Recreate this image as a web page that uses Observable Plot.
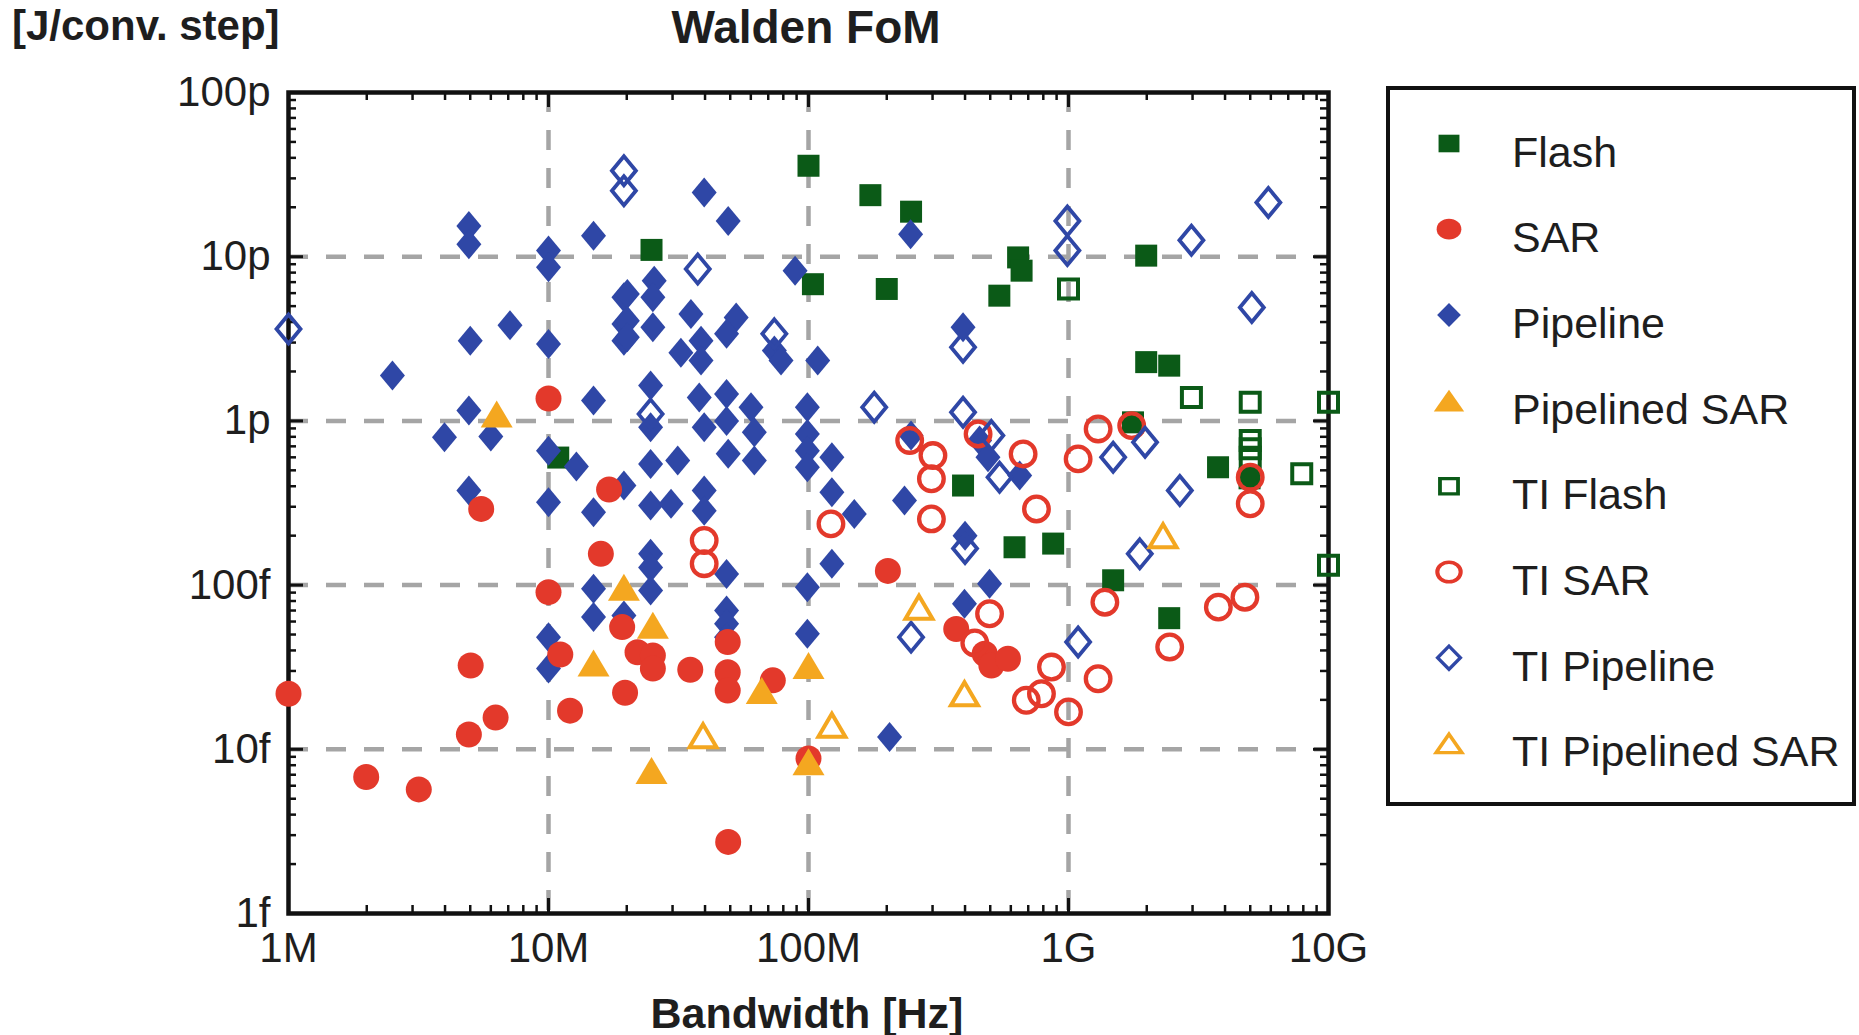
<!DOCTYPE html>
<html><head><meta charset="utf-8">
<script src="https://cdn.jsdelivr.net/npm/d3@7"></script>
<script src="https://cdn.jsdelivr.net/npm/@observablehq/plot@0.6"></script>
<style>html,body{margin:0;padding:0;background:#fff;}</style>
</head><body><div id="chart"></div>
<script>
// Bandwidth in MHz, Walden FoM in fJ/conv.-step
const flash = [[100,35800],[173,23700],[248,18800],[24.9,11000],[104,6800],[200,6360],[640,9900],[660,8220],[542,5790],[1990,10150],[1990,2280],[2440,2170],[1770,980],[393,404],[3760,522],[4970,447],[620,170],[873,179],[1485,107],[2440,62.9],[10.9,598]];
const sar = [[1.0,21.8],[5.02,32.4],[4.94,12.3],[6.26,15.6],[1.99,6.78],[3.17,5.7],[10,1370],[5.51,291],[17.1,382],[15.9,155],[10,90.6],[11.1,37.8],[12.1,17.2],[19.2,55.5],[19.7,22.1],[22,39],[25.2,37.3],[25.2,31],[35.1,30.5],[48.9,29.5],[48.9,22.8],[48.9,45],[72.9,26.3],[100,8.8],[49.1,2.73],[202,122],[370,54],[476,38.2],[505,32.4],[585,35.6]];
const pipeline = [[4.94,15400],[4.94,11900],[10,10900],[10,8610],[14.9,13400],[5.0,3080],[7.11,3830],[10,2940],[2.51,1890],[19.5,5660],[19.5,3890],[19.5,3080],[39.7,24600],[49.1,16500],[247,13700],[88.8,8220],[108.5,2330],[393,3720],[25.5,7140],[25.2,5660],[20.1,5930],[20.1,4080],[20.1,3230],[25.2,3720],[35.3,4480],[52.7,4270],[48.4,3390],[32.3,2600],[38.6,3080],[38.6,2330],[73.9,2680],[78.4,2330],[4.94,1155],[3.98,795],[6.0,803],[14.9,1330],[10,659],[12.8,527],[4.94,377],[10,320],[14.9,278],[19.5,404],[14.9,95],[14.9,64],[19.5,65.4],[10,48.2],[10,31],[24.7,1640],[24.7,914],[24.7,547],[31.4,573],[24.7,305],[29.6,313],[39.7,377],[39.7,284],[38,1390],[39.7,914],[48.4,1460],[48.4,1000],[49.1,630],[60.1,1210],[61.9,853],[61.9,573],[99,1210],[99,833],[99,659],[99,522],[123,600],[123,368],[150,271],[123,135],[99,97],[99,50.5],[48.4,117],[24.7,155],[24.7,128],[24.7,92.8],[48.4,70],[48.4,58.2],[48.4,48.2],[234,328],[248,814],[398,76.9],[455,760],[497,102],[649,465],[490,600],[400,200],[205,11.9]];
const pipelinedSar = [[6.32,1100],[19.5,97],[25.2,57],[14.9,33.5],[100,32.4],[66.1,22.8],[24.9,7.44],[100,8.4]];
const tiFlash = [[1000,6360],[2970,1390],[5000,1300],[5000,760],[5000,677],[5000,600],[7890,476],[10000,1300],[10000,132]];
const tiSar = [[39.7,187],[39.7,135],[122,236],[245,760],[301,615],[297,444],[297,253],[449,833],[669,629],[753,291],[1089,587],[1300,893],[1750,936],[5000,454],[5000,313],[1380,78.7],[3770,73.4],[4770,84.4],[497,66.9],[2450,42],[436,44.4],[860,31.7],[688,19.9],[787,21.8],[1000,16.9],[1300,26.9]];
const tiPipeline = [[1.0,3630],[19.5,33400],[19.5,25200],[37.5,8410],[73.9,3390],[24.7,1100],[179,1210],[393,2810],[393,1130],[400,167],[248,48.2],[505,814],[543,454],[990,16500],[990,10900],[2970,12600],[5870,21400],[5070,4910],[1485,600],[1970,741],[2680,377],[1880,155],[1089,45]];
const tiPipelinedSar = [[39.3,12.1],[123,14],[398,21.8],[266,73.4],[2310,200]];

const xTickValues = [1, 10, 100, 1000, 10000];
const xTickLabels = ["1M", "10M", "100M", "1G", "10G"];
const yTickValues = [1, 10, 100, 1000, 10000, 100000];
const yTickLabels = ["1f", "10f", "100f", "1p", "10p", "100p"];
const seriesNames = ["Flash", "SAR", "Pipeline", "Pipelined SAR", "TI Flash", "TI SAR", "TI Pipeline", "TI Pipelined SAR"];

const FONT = "'Liberation Sans', Arial, Helvetica, sans-serif";
const GREEN = "#0b5a17", RED = "#e3392b", BLUE = "#2f47a6", ORANGE = "#f4a720";
const W = 1859, H = 1035, ML = 288, MR = 531, MT = 92, MB = 122;
const PH = H - MT - MB;

function sym(kind, a, b) {
  return {draw(ctx, size) {
    const u = Math.sqrt(size / Math.PI) / 10;
    const A = a * u, B = (b === undefined ? a : b) * u;
    if (kind === "square") { ctx.moveTo(-A, -A); ctx.lineTo(A, -A); ctx.lineTo(A, A); ctx.lineTo(-A, A); ctx.closePath(); }
    else if (kind === "circle") { ctx.moveTo(A, 0); ctx.arc(0, 0, A, 0, 2 * Math.PI); ctx.closePath(); }
    else if (kind === "diamond") { ctx.moveTo(0, -A); ctx.lineTo(B, 0); ctx.lineTo(0, A); ctx.lineTo(-B, 0); ctx.closePath(); }
    else if (kind === "triangle") { ctx.moveTo(0, -B / 2); ctx.lineTo(A / 2, B / 2); ctx.lineTo(-A / 2, B / 2); ctx.closePath(); }
  }};
}

const styles = {
  "Flash": {data: flash, symbol: sym("square", 11), color: GREEN, open: false},
  "SAR": {data: sar, symbol: sym("circle", 13), color: RED, open: false},
  "Pipeline": {data: pipeline, symbol: sym("diamond", 15, 12.5), color: BLUE, open: false},
  "Pipelined SAR": {data: pipelinedSar, symbol: sym("triangle", 32, 27), color: ORANGE, open: false},
  "TI Flash": {data: tiFlash, symbol: sym("square", 9.5), color: GREEN, open: true, sw: 4},
  "TI SAR": {data: tiSar, symbol: sym("circle", 12.3), color: RED, open: true, sw: 4.3},
  "TI Pipeline": {data: tiPipeline, symbol: sym("diamond", 14.5, 12), color: BLUE, open: true, sw: 3.8},
  "TI Pipelined SAR": {data: tiPipelinedSar, symbol: sym("triangle", 27, 23), color: ORANGE, open: true, sw: 4}
};
const drawOrder = ["Flash", "Pipeline", "SAR", "Pipelined SAR", "TI Flash", "TI SAR", "TI Pipeline", "TI Pipelined SAR"];

const xMinor = [], yMinor = [];
for (const d of [1, 10, 100, 1000]) for (let m = 2; m <= 9; m++) xMinor.push(d * m);
for (const d of [1, 10, 100, 1000, 10000]) for (let m = 2; m <= 9; m++) yMinor.push(d * m);
const xGrid = xTickValues.slice(1, -1), yGrid = yTickValues.slice(1, -1);
const xLab = new Map(xTickValues.map((v, i) => [v, xTickLabels[i]]));
const yLab = new Map(yTickValues.map((v, i) => [v, yTickLabels[i]]));
const PW = W - ML - MR;

const dotMarks = drawOrder.map(name => {
  const s = styles[name];
  return Plot.dot(s.data, {
    x: d => d[0], y: d => d[1], r: 10, symbol: s.symbol,
    fill: s.open ? "none" : s.color, stroke: s.open ? s.color : "none",
    strokeWidth: s.open ? s.sw : 0
  });
});

const chart = Plot.plot({
  width: W, height: H,
  marginLeft: ML, marginRight: MR, marginTop: MT, marginBottom: MB,
  x: {type: "log", domain: [1, 10000], axis: null},
  y: {type: "log", domain: [1, 100000], axis: null},
  style: {fontFamily: FONT, color: "#1e1e1e", background: "white", overflow: "visible"},
  marks: [
    Plot.ruleX(xGrid, {x: d => d, stroke: "#a5a5a5", strokeWidth: 4.5, strokeDasharray: "20,18"}),
    Plot.ruleY(yGrid, {y: d => d, stroke: "#a5a5a5", strokeWidth: 4.5, strokeDasharray: "20,18"}),
    Plot.ruleX(xMinor, {x: d => d, insetTop: PH - 8, stroke: "#111", strokeWidth: 2.5}),
    Plot.ruleX(xMinor, {x: d => d, insetBottom: PH - 8, stroke: "#111", strokeWidth: 2.5}),
    Plot.ruleX(xGrid, {x: d => d, insetTop: PH - 15, stroke: "#111", strokeWidth: 3}),
    Plot.ruleX(xGrid, {x: d => d, insetBottom: PH - 15, stroke: "#111", strokeWidth: 3}),
    Plot.ruleY(yMinor, {y: d => d, insetRight: PW - 8, stroke: "#111", strokeWidth: 2.5}),
    Plot.ruleY(yMinor, {y: d => d, insetLeft: PW - 8, stroke: "#111", strokeWidth: 2.5}),
    Plot.ruleY(yGrid, {y: d => d, insetRight: PW - 15, stroke: "#111", strokeWidth: 3}),
    Plot.ruleY(yGrid, {y: d => d, insetLeft: PW - 15, stroke: "#111", strokeWidth: 3}),
    Plot.frame({stroke: "#111", strokeWidth: 4.5}),
    Plot.axisX(xTickValues, {anchor: "bottom", tickSize: 0, tickPadding: 19, fontSize: 42, tickFormat: d => xLab.get(d), label: null}),
    Plot.axisY(yTickValues, {anchor: "left", tickSize: 0, tickPadding: 18, fontSize: 42, tickFormat: d => yLab.get(d), label: null}),
    ...dotMarks
  ]
});

document.getElementById("chart").appendChild(chart);
const svg = d3.select(chart);

// titles
svg.append("text").attr("x", 12).attr("y", 40).attr("font-size", 42).attr("font-weight", "bold")
  .attr("text-anchor", "start").attr("font-family", FONT).attr("fill", "#1e1e1e").text("[J/conv. step]");
svg.append("text").attr("x", 806).attr("y", 43).attr("font-size", 46).attr("font-weight", "bold")
  .attr("text-anchor", "middle").attr("font-family", FONT).attr("fill", "#1e1e1e").text("Walden FoM");
svg.append("text").attr("x", 807).attr("y", 1028).attr("font-size", 43).attr("font-weight", "bold")
  .attr("text-anchor", "middle").attr("font-family", FONT).attr("fill", "#1e1e1e").text("Bandwidth [Hz]");

// legend
const lg = svg.append("g");
lg.append("rect").attr("x", 1388).attr("y", 88).attr("width", 466).attr("height", 716)
  .attr("fill", "white").attr("stroke", "#111").attr("stroke-width", 4);
seriesNames.forEach((name, i) => {
  const s = styles[name];
  const cy = 143.5 + i * 85.7;
  lg.append("path")
    .attr("d", d3.symbol(s.symbol, Math.PI * 100)())
    .attr("transform", `translate(1449,${cy}) scale(0.95,0.8)`)
    .attr("fill", s.open ? "none" : s.color)
    .attr("stroke", s.open ? s.color : "none")
    .attr("stroke-width", s.open ? s.sw : 0);
  lg.append("text").attr("x", 1512).attr("y", cy + 23).attr("font-size", 43)
    .attr("text-anchor", "start").attr("font-family", FONT).attr("fill", "#1e1e1e").text(name);
});
</script>
</body></html>
